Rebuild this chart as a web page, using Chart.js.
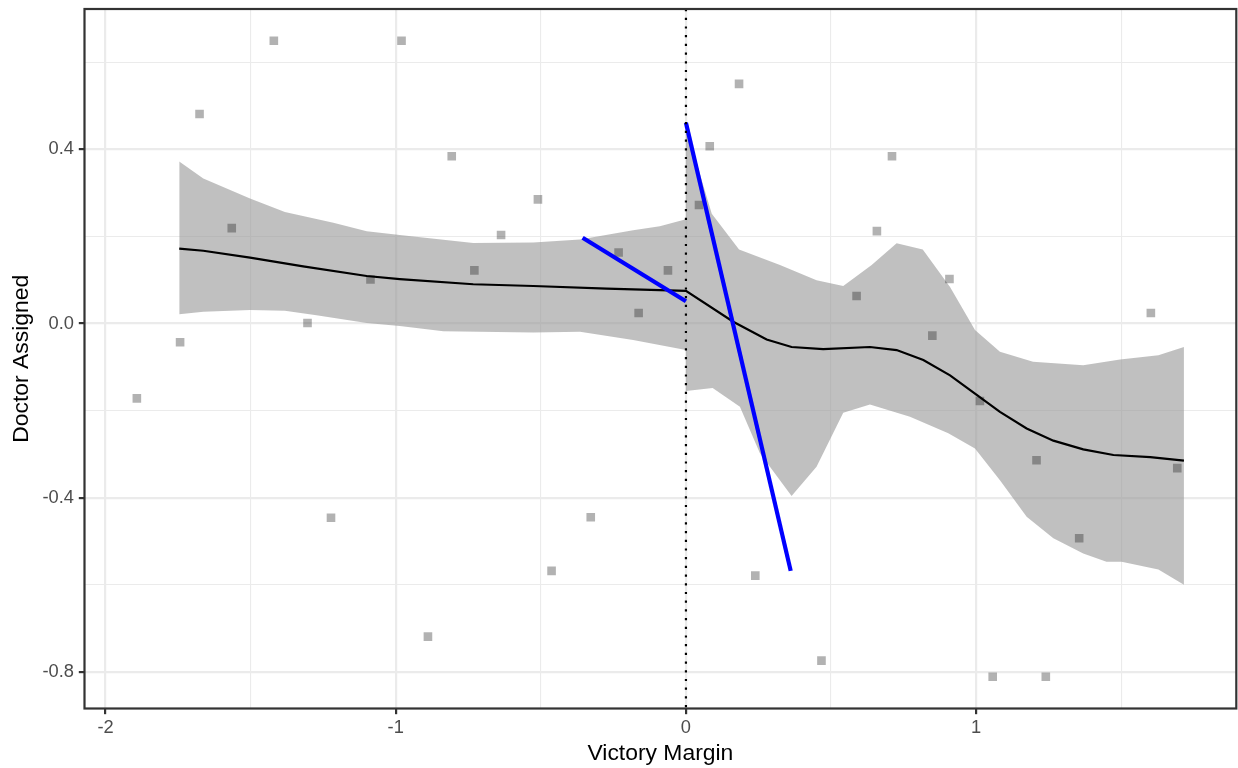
<!DOCTYPE html>
<html>
<head>
<meta charset="utf-8">
<script src="https://cdn.jsdelivr.net/npm/chart.js@4/dist/chart.umd.min.js"></script>
<style>
  html, body { margin: 0; padding: 0; background: #ffffff; }
  #chart { display: block; }
</style>
</head>
<body>
<canvas id="chart" width="1238" height="768"></canvas>
<script>
// Observed municipalities: victory margin vs. doctor assigned
const marginX = [-1.892, -1.743, -1.676, -1.565, -1.420, -1.304, -1.223, -1.087, -0.980, -0.889,
                 -0.807, -0.729, -0.637, -0.510, -0.463, -0.328, -0.232, -0.163, -0.062, 0.045,
                 0.082, 0.183, 0.239, 0.467, 0.588, 0.658, 0.710, 0.849, 0.908, 1.013,
                 1.057, 1.208, 1.240, 1.355, 1.602, 1.693];
const doctorY = [-0.172, -0.043, 0.481, 0.219, 0.649, 0.001, -0.446, 0.101, 0.649, -0.719,
                 0.384, 0.122, 0.203, 0.285, -0.568, -0.445, 0.163, 0.024, 0.122, 0.272,
                 0.407, 0.550, -0.579, -0.774, 0.063, 0.212, 0.384, -0.028, 0.102, -0.178,
                 -0.811, -0.314, -0.811, -0.493, 0.024, -0.332];

// Smoothed fit (loess) across the whole range
const smoothX = [-1.746, -1.663, -1.502, -1.319, -1.100, -0.986, -0.733, -0.526, -0.273, 0,
                 0.163, 0.278, 0.364, 0.473, 0.634, 0.726, 0.818, 0.910, 0.996, 1.082,
                 1.174, 1.266, 1.369, 1.473, 1.600, 1.716];
const smoothY = [0.172, 0.167, 0.151, 0.131, 0.109, 0.102, 0.090, 0.086, 0.080, 0.075,
                 0.004, -0.037, -0.054, -0.059, -0.054, -0.061, -0.084, -0.119, -0.161, -0.203,
                 -0.241, -0.269, -0.289, -0.302, -0.307, -0.315];

// Confidence band, left of the cutoff
const bandLeftUpperX = [-1.746, -1.663, -1.502, -1.382, -1.215, -1.100, -0.986, -0.733, -0.526, -0.365, -0.182, -0.090, 0];
const bandLeftUpperY = [0.372, 0.333, 0.287, 0.256, 0.231, 0.212, 0.203, 0.185, 0.186, 0.193, 0.214, 0.223, 0.239];
const bandLeftLowerX = [-1.746, -1.663, -1.502, -1.382, -1.273, -1.100, -0.986, -0.836, -0.526, -0.365, -0.182, 0];
const bandLeftLowerY = [0.021, 0.027, 0.031, 0.029, 0.019, 0.001, -0.006, -0.018, -0.021, -0.019, -0.038, -0.061];

// Confidence band, right of the cutoff
const bandRightUpperX = [0, 0.089, 0.183, 0.324, 0.450, 0.542, 0.640, 0.726, 0.816, 0.910, 0.996, 1.082, 1.196, 1.369, 1.496, 1.628, 1.716];
const bandRightUpperY = [0.450, 0.252, 0.170, 0.134, 0.099, 0.086, 0.134, 0.184, 0.170, 0.084, -0.015, -0.065, -0.088, -0.096, -0.083, -0.073, -0.054];
const bandRightLowerX = [0, 0.092, 0.186, 0.255, 0.364, 0.450, 0.542, 0.634, 0.772, 0.904, 0.996, 1.082, 1.174, 1.266, 1.369, 1.449, 1.501, 1.628, 1.716];
const bandRightLowerY = [-0.155, -0.148, -0.191, -0.298, -0.396, -0.329, -0.205, -0.186, -0.214, -0.252, -0.287, -0.360, -0.444, -0.493, -0.528, -0.547, -0.547, -0.565, -0.600];

// Local linear fits on each side of the cutoff
const fitLeftX = [-0.356, 0];
const fitLeftY = [0.197, 0.051];
const fitRightX = [0, 0.361];
const fitRightY = [0.461, -0.568];

const cutoff = 0;

// Axis ticks
const xMajor = [-2, -1, 0, 1];
const xTickLabels = ['-2', '-1', '0', '1'];
const xMinor = [-1.5, -0.5, 0.5, 1.5];
const yMajor = [-0.8, -0.4, 0, 0.4];
const yTickLabels = ['-0.8', '-0.4', '0.0', '0.4'];
const yMinor = [-0.6, -0.2, 0.2, 0.6];

const pairs = (xs, ys) => xs.map((x, i) => ({ x: x, y: ys[i] }));
const FONT = "'Liberation Sans', Arial, Helvetica, sans-serif";
const RIBBON = 'rgba(153,153,153,0.62)';

const lineSet = (data, color, width, order) => ({
  data, borderColor: color, borderWidth: width, pointRadius: 0,
  fill: false, tension: 0, order
});
const bandLower = (data) => ({
  data, borderColor: 'rgba(0,0,0,0)', borderWidth: 0, pointRadius: 0,
  fill: false, tension: 0, order: 4
});
const bandUpper = (data, target) => ({
  data, borderColor: 'rgba(0,0,0,0)', borderWidth: 0, pointRadius: 0,
  backgroundColor: RIBBON, fill: { target: target }, tension: 0, order: 4
});

const datasets = [
  bandLower(pairs(bandLeftLowerX, bandLeftLowerY)),        // 0
  bandUpper(pairs(bandLeftUpperX, bandLeftUpperY), 0),     // 1
  bandLower(pairs(bandRightLowerX, bandRightLowerY)),      // 2
  bandUpper(pairs(bandRightUpperX, bandRightUpperY), 2),   // 3
  lineSet(pairs(smoothX, smoothY), '#000000', 2.2, 3),
  {
    data: pairs(marginX, doctorY), showLine: false, order: 2,
    pointStyle: 'rect', pointRadius: 6.1,
    pointBackgroundColor: 'rgba(0,0,0,0.3)', pointBorderWidth: 0
  },
  lineSet(pairs(fitLeftX, fitLeftY), '#0000FF', 4.2, 1),
  lineSet(pairs(fitRightX, fitRightY), '#0000FF', 4.2, 1)
];

const buildTicks = (major, minor) => (scale) => {
  scale.ticks = major.concat(minor).sort((a, b) => a - b).map(v => ({ value: v }));
};
const isMajor = (list) => (ctx) => ctx.tick && list.includes(ctx.tick.value);

// Panel frame and dotted cutoff line
const panel = {
  id: 'panel',
  afterDatasetsDraw(chart) {
    const { ctx, chartArea: a, scales } = chart;
    const px = scales.x.getPixelForValue(cutoff);
    ctx.save();
    ctx.beginPath();
    ctx.rect(a.left, a.top, a.right - a.left, a.bottom - a.top);
    ctx.clip();
    ctx.beginPath();
    ctx.setLineDash([2.2, 6.5]);
    ctx.lineWidth = 2.2;
    ctx.lineCap = 'butt';
    ctx.strokeStyle = '#000000';
    ctx.moveTo(px, a.top);
    ctx.lineTo(px, a.bottom);
    ctx.stroke();
    ctx.restore();

    ctx.save();
    ctx.setLineDash([]);
    ctx.lineWidth = 2.2;
    ctx.strokeStyle = '#333333';
    ctx.strokeRect(a.left, a.top, a.right - a.left, a.bottom - a.top);
    ctx.restore();
  }
};

new Chart(document.getElementById('chart'), {
  type: 'line',
  data: { datasets },
  plugins: [panel],
  options: {
    responsive: false,
    devicePixelRatio: 1,
    animation: false,
    events: [],
    layout: { autoPadding: false, padding: { top: 9, right: 1.7, left: 0, bottom: 0 } },
    plugins: { legend: { display: false }, tooltip: { enabled: false } },
    scales: {
      x: {
        type: 'linear',
        min: -2.0724,
        max: 1.8964,
        afterBuildTicks: buildTicks(xMajor, xMinor),
        afterFit: (s) => { s.height = 59.5; s.paddingLeft = 0; s.paddingRight = 0; },
        border: { display: false },
        grid: {
          color: '#EBEBEB',
          lineWidth: (ctx) => isMajor(xMajor)(ctx) ? 2.2 : 1.1,
          tickColor: (ctx) => isMajor(xMajor)(ctx) ? '#333333' : 'rgba(0,0,0,0)',
          tickWidth: 2.2,
          tickLength: 5.7,
          drawTicks: true
        },
        ticks: {
          autoSkip: false,
          maxRotation: 0,
          padding: 3,
          color: '#4D4D4D',
          font: { family: FONT, size: 18.3 },
          callback: (v) => { const i = xMajor.indexOf(v); return i >= 0 ? xTickLabels[i] : ''; }
        },
        title: {
          display: true,
          text: 'Victory Margin',
          color: '#000000',
          font: { family: FONT, size: 22.9 },
          padding: { top: 0, bottom: 0.5 }
        }
      },
      y: {
        type: 'linear',
        min: -0.884,
        max: 0.722,
        afterBuildTicks: buildTicks(yMajor, yMinor),
        afterFit: (s) => { s.width = 84.5; s.paddingTop = 0; s.paddingBottom = 0; },
        border: { display: false },
        grid: {
          color: '#EBEBEB',
          lineWidth: (ctx) => isMajor(yMajor)(ctx) ? 2.2 : 1.1,
          tickColor: (ctx) => isMajor(yMajor)(ctx) ? '#333333' : 'rgba(0,0,0,0)',
          tickWidth: 2.2,
          tickLength: 5.7,
          drawTicks: true
        },
        ticks: {
          autoSkip: false,
          padding: 4.8,
          color: '#4D4D4D',
          font: { family: FONT, size: 18.3 },
          callback: (v) => { const i = yMajor.indexOf(v); return i >= 0 ? yTickLabels[i] : ''; }
        },
        title: {
          display: true,
          text: 'Doctor Assigned',
          color: '#000000',
          font: { family: FONT, size: 22.9 },
          padding: { top: 7.5, bottom: 0 }
        }
      }
    }
  }
});
</script>
</body>
</html>
